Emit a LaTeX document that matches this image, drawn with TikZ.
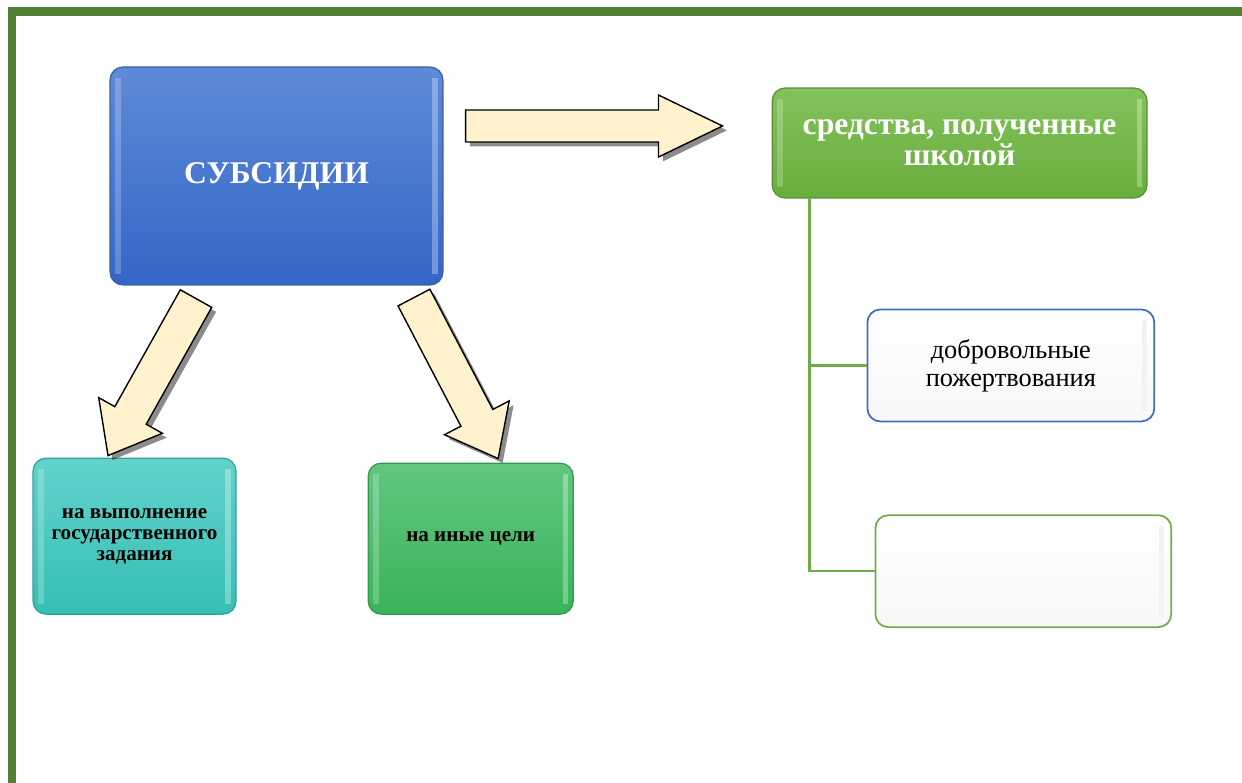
\documentclass[tikz,border=0pt]{standalone}
\usepackage{fontspec}
\setmainfont{Liberation Serif}
\usepackage{tikz}
\usetikzlibrary{positioning}
\usetikzlibrary{calc}
\usetikzlibrary{shadows}

\definecolor{framegreen}{HTML}{548235}
\definecolor{branchgreen}{HTML}{70AD47}
\definecolor{cream}{HTML}{FFF2CC}
\definecolor{subsTop}{HTML}{5F8AD8}
\definecolor{subsBot}{HTML}{3466C8}
\definecolor{subsLine}{HTML}{3A5FA8}
\definecolor{schoolTop}{HTML}{84C25C}
\definecolor{schoolBot}{HTML}{68AD3C}
\definecolor{schoolLine}{HTML}{5B8F36}
\definecolor{tealTop}{HTML}{62D2CB}
\definecolor{tealBot}{HTML}{36BFB4}
\definecolor{tealLine}{HTML}{2FA39A}
\definecolor{otherTop}{HTML}{62C77F}
\definecolor{otherBot}{HTML}{3AB35A}
\definecolor{otherLine}{HTML}{2F9A4B}
\definecolor{giftLine}{HTML}{3F6DBF}

\tikzset{
  box/.style={rounded corners=0.26cm, align=center, inner sep=0pt, line width=0.7pt},
  bevel/.style={path picture={
      \fill[white,opacity=0.22,sharp corners] ([xshift=3pt,yshift=-6pt]path picture bounding box.north west)
        rectangle ([xshift=6pt,yshift=6pt]path picture bounding box.south west);
      \fill[white,opacity=0.3,sharp corners] ([xshift=-6pt,yshift=-6pt]path picture bounding box.north east)
        rectangle ([xshift=-3pt,yshift=6pt]path picture bounding box.south east);}},
  subsbox/.style={box, bevel, draw=subsLine, top color=subsTop, bottom color=subsBot, text=white},
  schoolbox/.style={box, bevel, draw=schoolLine, top color=schoolTop, bottom color=schoolBot, text=white},
  tealbox/.style={box, bevel, draw=tealLine, top color=tealTop, bottom color=tealBot, text=black},
  otherbox/.style={box, bevel, draw=otherLine, top color=otherTop, bottom color=otherBot, text=black},
  plainbox/.style={box, line width=1pt, top color=white, bottom color=black!3, text=black,
      path picture={\fill[black!5,sharp corners] ([xshift=-7pt,yshift=-6pt]path picture bounding box.north east)
        rectangle ([xshift=-4pt,yshift=6pt]path picture bounding box.south east);}},
  fatarrow/.style={draw=black, line width=0.8pt, fill=cream, line join=miter,
      drop shadow={shadow xshift=2.5pt, shadow yshift=-2.5pt, fill=black, opacity=0.45}},
  branch/.style={draw=branchgreen, line width=1.3pt},
  frame/.style={draw=framegreen, line width=4.8pt},
}

% thick cream arrow from #1 to #2: half body width #3, half head width #4, head length #5
\newcommand{\blockarrow}[5]{%
  \coordinate (neck) at ($(#2)!#5!(#1)$);
  \path[fatarrow] ($(#1)!#3!90:(#2)$) -- ($(neck)!#3!90:(#2)$) -- ($(neck)!#4!90:(#2)$)
    -- (#2) -- ($(neck)!#4!-90:(#2)$) -- ($(neck)!#3!-90:(#2)$) -- ($(#1)!#3!-90:(#2)$) -- cycle;
}

\newcommand{\bigbold}{\fontsize{18}{17.5}\selectfont\bfseries}
\newcommand{\smallbold}{\fontsize{12}{12}\selectfont\bfseries}
\newcommand{\midtext}{\fontsize{15}{16}\selectfont}

\begin{document}
\begin{tikzpicture}[x=0.02cm,y=-0.02cm]
  \useasboundingbox (0,0) rectangle (1242,783);
  \draw[frame] (1242,11.7) -| (12.2,783);

  \node (subs) [subsbox, font=\bigbold, minimum width=6.66cm, minimum height=4.36cm] at (276.5,176) {СУБСИДИИ};
  \node (school) [schoolbox, font=\bigbold, minimum width=7.5cm, minimum height=2.2cm,
                  below right=0.42cm and 6.56cm of subs.north east] {средства, полученные\\школой};
  \node (goal) [tealbox, font=\smallbold, minimum width=4.06cm, minimum height=3.12cm,
                below right=3.44cm and -1.54cm of subs.south west] {на выполнение\\государственного\\задания};
  \node (other) [otherbox, font=\smallbold, minimum width=4.1cm, minimum height=3.02cm,
                 below right=0.1cm and 2.62cm of goal.north east] {на иные цели};
  \node (gift) [plainbox, draw=giftLine, font=\midtext, minimum width=5.74cm, minimum height=2.24cm,
                below right=2.2cm and 1.9cm of school.south west] {добровольные\\пожертвования};
  \node (empty) [plainbox, draw=branchgreen, minimum width=5.92cm, minimum height=2.24cm,
                 below right=1.84cm and 0.16cm of gift.south west] {};

  % branches of the school income
  \coordinate (trunk) at ([xshift=0.76cm]school.south west);
  \draw[branch] (trunk) |- (gift.west);
  \draw[branch] (trunk) |- (empty.west);

  % cream arrows
  \coordinate (rtail) at ([xshift=0.44cm,yshift=1cm]subs.east);
  \coordinate (rtip)  at ([xshift=-0.98cm,yshift=0.34cm]school.west);
  \coordinate (ltail) at ([xshift=-1.61cm,yshift=-0.26cm]subs.south);
  \coordinate (ltip)  at ([xshift=-0.53cm,yshift=0.04cm]goal.north);
  \coordinate (mtail) at ([xshift=2.75cm,yshift=-0.24cm]subs.south);
  \coordinate (mtip)  at ([xshift=0.55cm,yshift=0.08cm]other.north);

  \blockarrow{rtail}{rtip}{0.32cm}{0.62cm}{1.28cm}
  \blockarrow{ltail}{ltip}{0.36cm}{0.73cm}{0.92cm}
  \blockarrow{mtail}{mtip}{0.36cm}{0.73cm}{0.92cm}
\end{tikzpicture}
\end{document}
